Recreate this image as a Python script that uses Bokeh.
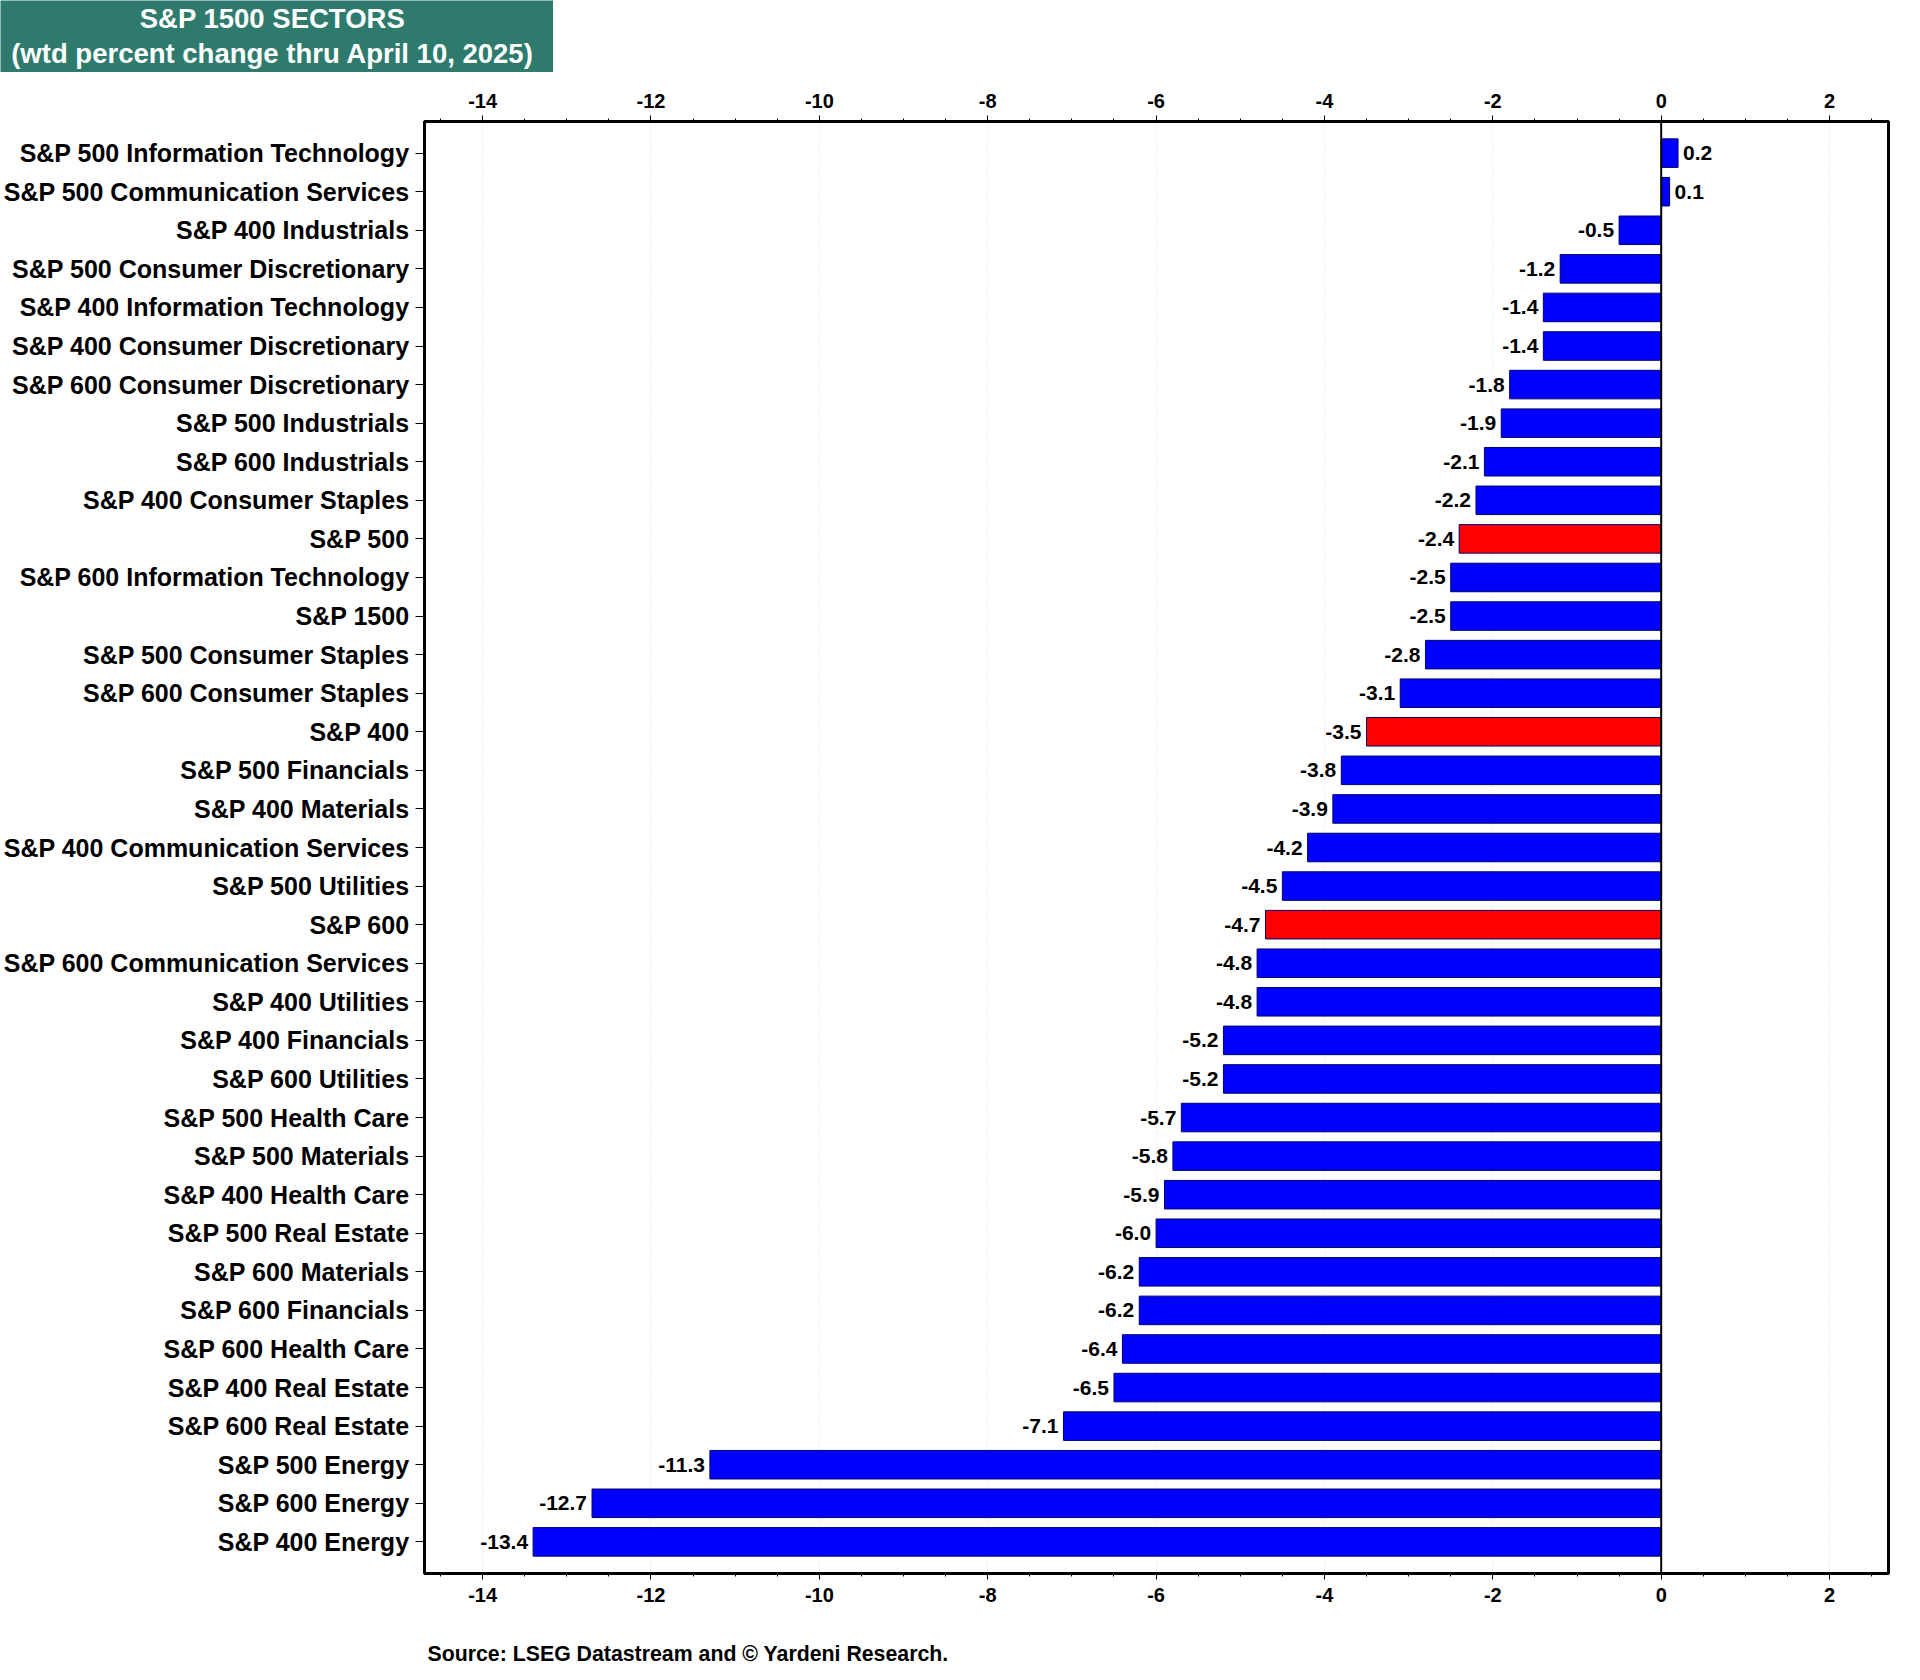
from bokeh.plotting import figure
from bokeh.models import (FactorRange, Range1d, LinearAxis, SingleIntervalTicker,
                          Span, ColumnDataSource)
from bokeh.layouts import column
from bokeh.core.properties import value
from bokeh.embed import file_html
from bokeh.resources import INLINE

categories = [
    "S&P 500 Information Technology", "S&P 500 Communication Services", "S&P 400 Industrials",
    "S&P 500 Consumer Discretionary", "S&P 400 Information Technology", "S&P 400 Consumer Discretionary",
    "S&P 600 Consumer Discretionary", "S&P 500 Industrials", "S&P 600 Industrials",
    "S&P 400 Consumer Staples", "S&P 500", "S&P 600 Information Technology", "S&P 1500",
    "S&P 500 Consumer Staples", "S&P 600 Consumer Staples", "S&P 400", "S&P 500 Financials",
    "S&P 400 Materials", "S&P 400 Communication Services", "S&P 500 Utilities", "S&P 600",
    "S&P 600 Communication Services", "S&P 400 Utilities", "S&P 400 Financials", "S&P 600 Utilities",
    "S&P 500 Health Care", "S&P 500 Materials", "S&P 400 Health Care", "S&P 500 Real Estate",
    "S&P 600 Materials", "S&P 600 Financials", "S&P 600 Health Care", "S&P 400 Real Estate",
    "S&P 600 Real Estate", "S&P 500 Energy", "S&P 600 Energy", "S&P 400 Energy",
]
values = [0.2, 0.1, -0.5, -1.2, -1.4, -1.4, -1.8, -1.9, -2.1, -2.2, -2.4, -2.5, -2.5, -2.8, -3.1,
          -3.5, -3.8, -3.9, -4.2, -4.5, -4.7, -4.8, -4.8, -5.2, -5.2, -5.7, -5.8, -5.9, -6.0,
          -6.2, -6.2, -6.4, -6.5, -7.1, -11.3, -12.7, -13.4]
index_names = ["S&P 500", "S&P 400", "S&P 600"]
tick_values = list(range(-14, 3, 2))

title_lines = ["S&P 1500 SECTORS", "(wtd percent change thru April 10, 2025)"]
source_text = "Source: LSEG Datastream and \u00a9 Yardeni Research."

FONT = "Liberation Sans"
BLUE = "#0000FF"
RED = "#FF0000"
TEAL = "#2E7B6E"

colors = [RED if c in index_names else BLUE for c in categories]
labels = [f"{v:.1f}" for v in values]
aligns = ["left" if v >= 0 else "right" for v in values]
offsets = [5 if v >= 0 else -5 for v in values]

src = ColumnDataSource(dict(cat=categories, val=values, color=colors, label=labels,
                            align=aligns, off=offsets))


def blank_fig(w, h, bg):
    f = figure(width=w, height=h, output_backend="svg", toolbar_location=None,
               x_range=Range1d(0, w), y_range=Range1d(h, 0), min_border=0,
               x_axis_location=None, y_axis_location=None)
    f.frame_align = False
    f.background_fill_color = bg
    f.border_fill_color = bg
    f.outline_line_color = None
    f.xgrid.grid_line_color = None
    f.ygrid.grid_line_color = None
    return f


# --- title box ---
tf = blank_fig(553, 72, TEAL)
tf.text(x=[272, 272], y=[18, 53], text=title_lines, text_align="center",
        text_baseline="middle", text_font=value(FONT), text_font_style="bold",
        text_font_size="27.5px", text_color="white")

# --- main chart ---
p = figure(width=1904, height=1568, output_backend="svg", toolbar_location=None,
           y_range=FactorRange(factors=list(reversed(categories)), range_padding=0.32,
                               range_padding_units="absolute"),
           x_range=Range1d(-14.69, 2.70),
           min_border_left=424, min_border_top=49, min_border_right=16, min_border_bottom=67,
           x_axis_location=None)
p.frame_align = False
p.background_fill_color = "white"
p.border_fill_color = "white"
p.outline_line_color = "black"
p.outline_line_width = 3

ticker = SingleIntervalTicker(interval=2, num_minor_ticks=4)
overrides = {t: str(t) for t in tick_values}
for loc in ("above", "below"):
    ax = LinearAxis(ticker=ticker)
    ax.major_label_overrides = overrides
    ax.axis_line_color = "black"
    ax.axis_line_width = 3
    ax.major_tick_line_color = "black"
    ax.major_tick_line_width = 1
    ax.major_tick_out = 6
    ax.major_tick_in = 0
    ax.minor_tick_line_color = "black"
    ax.minor_tick_out = 3
    ax.minor_tick_in = 0
    ax.major_label_text_font = FONT
    ax.major_label_text_font_style = "bold"
    ax.major_label_text_font_size = "20px"
    ax.major_label_text_color = "black"
    ax.major_label_standoff = 8
    p.add_layout(ax, loc)

p.xgrid.ticker = ticker
p.xgrid.grid_line_color = "#e0e0e0"
p.xgrid.grid_line_dash = "1 2"
p.xgrid.grid_line_width = 1
p.ygrid.grid_line_color = None

ya = p.yaxis[0]
ya.axis_line_color = "black"
ya.axis_line_width = 3
ya.major_tick_out = 9
ya.major_tick_in = 0
ya.major_tick_line_color = "black"
ya.minor_tick_line_color = None
ya.major_label_text_font = FONT
ya.major_label_text_font_style = "bold"
ya.major_label_text_font_size = "25px"
ya.major_label_text_color = "black"
ya.major_label_standoff = 6

p.hbar(y="cat", left=0, right="val", height=0.74, fill_color="color",
       line_color="#000070", line_width=1, source=src)

p.add_layout(Span(location=0, dimension="height", line_color="black", line_width=2))

p.text(x="val", y="cat", text="label", text_align="align", x_offset="off",
       text_baseline="middle", text_font=value(FONT), text_font_style="bold",
       text_font_size="21px", text_color="black", source=src)

# --- source line ---
sf = blank_fig(1000, 24, "white")
sf.text(x=[427], y=[13], text=[source_text], text_align="left", text_baseline="middle",
        text_font=value(FONT), text_font_style="bold", text_font_size="21.3px",
        text_color="black")

layout = column(tf, p, sf, spacing=0)
open("out.html", "w").write(file_html(layout, INLINE))
